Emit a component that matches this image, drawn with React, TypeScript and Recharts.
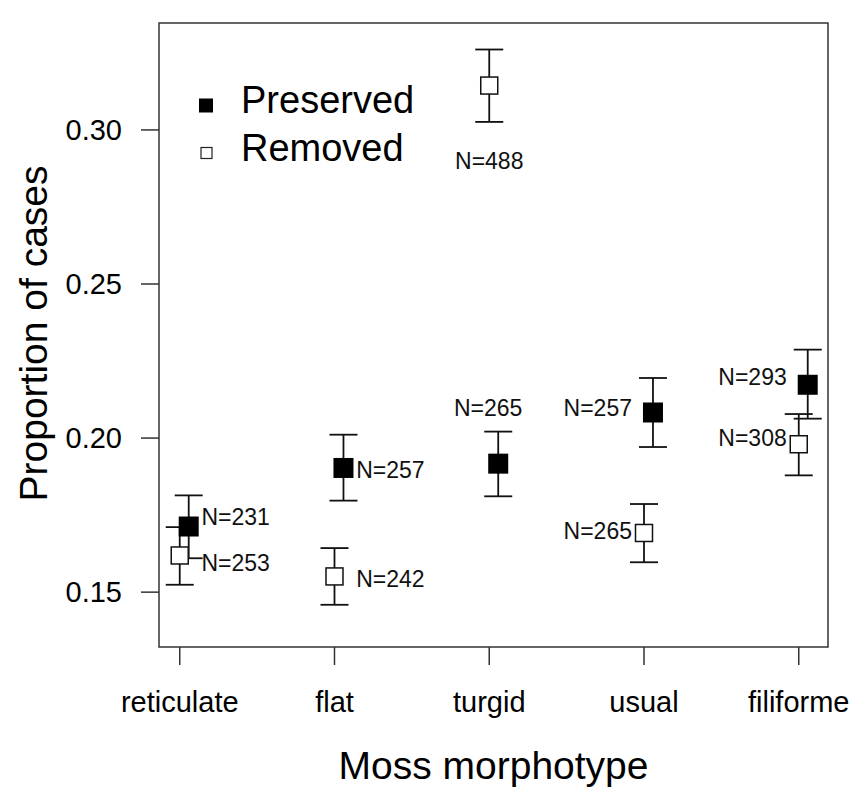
import {
  ScatterChart,
  Scatter,
  XAxis,
  YAxis,
  ErrorBar,
  ReferenceArea,
  Legend,
} from 'recharts';

// values
const categories = ['reticulate', 'flat', 'turgid', 'usual', 'filiforme'];

const preservedMean = [0.1713, 0.1903, 0.1917, 0.2083, 0.2173];
const preservedLower = [0.161, 0.1797, 0.1811, 0.1971, 0.2063];
const preservedUpper = [0.1814, 0.2011, 0.2021, 0.2195, 0.2287];
const preservedN = [231, 257, 265, 257, 293];

const removedMean = [0.1619, 0.1551, 0.3144, 0.1692, 0.198];
const removedLower = [0.1524, 0.1459, 0.3026, 0.1597, 0.1879];
const removedUpper = [0.1711, 0.1643, 0.3261, 0.1786, 0.2078];
const removedN = [253, 242, 488, 265, 308];

const yTicks = [0.15, 0.2, 0.25, 0.3];
const xTicks = [1, 2, 3, 4, 5];

const FONT = '"Liberation Sans", Arial, Helvetica, sans-serif';
const X_DOMAIN: [number, number] = [0.866, 5.189];
const Y_DOMAIN: [number, number] = [0.1322, 0.3347];
const DODGE = 0.058; // preserved points sit a little right of the tick

// where each N= label sits relative to its square (px)
const preservedLabelPos = [
  { dx: 12.7, dy: -10, anchor: 'start' },
  { dx: 12.7, dy: 1.7, anchor: 'start' },
  { dx: -10, dy: -56, anchor: 'middle' },
  { dx: -21, dy: -4.4, anchor: 'end' },
  { dx: -21, dy: -8.3, anchor: 'end' },
];
const removedLabelPos = [
  { dx: 21.7, dy: 7.6, anchor: 'start' },
  { dx: 21.7, dy: 2.3, anchor: 'start' },
  { dx: 0, dy: 75.7, anchor: 'middle' },
  { dx: -12, dy: -1.6, anchor: 'end' },
  { dx: -12, dy: -6.5, anchor: 'end' },
];

const buildRows = (mean: number[], lower: number[], upper: number[], n: number[], shift: number) =>
  mean.map((m, i) => ({
    x: i + 1 + shift,
    y: m,
    err: [m - lower[i], upper[i] - m],
    n: n[i],
    idx: i,
  }));

const preservedRows = buildRows(preservedMean, preservedLower, preservedUpper, preservedN, DODGE);
const removedRows = buildRows(removedMean, removedLower, removedUpper, removedN, 0);

const NLabel = ({ cx, cy, pos, n }: any) => (
  <text
    x={cx + pos.dx}
    y={cy + pos.dy}
    dy="0.35em"
    textAnchor={pos.anchor}
    fontSize={23}
    fontFamily={FONT}
    fill="#111"
  >
    {`N=${n}`}
  </text>
);

const FilledSquare = (props: any) => {
  const { cx, cy, payload } = props;
  return (
    <g>
      <rect x={cx - 10} y={cy - 10} width={20} height={20} fill="#000" />
      <NLabel cx={cx} cy={cy} pos={preservedLabelPos[payload.idx]} n={payload.n} />
    </g>
  );
};

const OpenSquare = (props: any) => {
  const { cx, cy, payload } = props;
  return (
    <g>
      <rect x={cx - 8.5} y={cy - 8.5} width={17} height={17} fill="#fff" stroke="#111" strokeWidth={1.5} />
      <NLabel cx={cx} cy={cy} pos={removedLabelPos[payload.idx]} n={payload.n} />
    </g>
  );
};

const Nothing = () => <g />;

const LegendBox = () => (
  <svg width={260} height={110} style={{ fontFamily: FONT }}>
    <rect x={9} y={28.5} width={14} height={14} fill="#000" />
    <text x={51} y={43.3} fontSize={38} fill="#000">
      Preserved
    </text>
    <rect x={11} y={77.5} width={11} height={11} fill="#fff" stroke="#222" strokeWidth={1.2} />
    <text x={51} y={90.7} fontSize={38} fill="#000">
      Removed
    </text>
  </svg>
);

const YTitle = (props: any) => {
  const vb = props.viewBox || { x: 0, y: 23, width: 159, height: 624 };
  const x = vb.x + 47;
  const y = vb.y + vb.height / 2 - 1.5;
  return (
    <text
      x={x}
      y={y}
      transform={`rotate(-90, ${x}, ${y})`}
      textAnchor="middle"
      fontSize={39}
      fontFamily={FONT}
      fill="#000"
    >
      Proportion of cases
    </text>
  );
};

const XTitle = (props: any) => {
  const vb = props.viewBox || { x: 159, y: 647, width: 669, height: 142 };
  return (
    <text
      x={vb.x + vb.width / 2}
      y={vb.y + 132}
      textAnchor="middle"
      fontSize={39}
      fontFamily={FONT}
      fill="#000"
    >
      Moss morphotype
    </text>
  );
};

export default function App() {
  const tickStyle = { fontSize: 29, fill: '#000', fontFamily: FONT };
  return (
    <div style={{ position: 'absolute', left: 0, top: 0, background: '#fff' }}>
      <ScatterChart
        width={852}
        height={789}
        margin={{ top: 23, right: 24, left: 0, bottom: 0 }}
        style={{ fontFamily: FONT }}
      >
        <XAxis
          type="number"
          dataKey="x"
          domain={X_DOMAIN}
          ticks={xTicks}
          interval={0}
          allowDataOverflow
          tickFormatter={(v: number) => categories[v - 1]}
          tick={tickStyle}
          tickSize={18}
          tickMargin={26}
          height={142}
          axisLine={false}
          tickLine={{ stroke: '#333', strokeWidth: 1.5 }}
          label={<XTitle />}
        />
        <YAxis
          type="number"
          dataKey="y"
          domain={Y_DOMAIN}
          ticks={yTicks}
          interval={0}
          allowDataOverflow
          tickFormatter={(v: number) => v.toFixed(2)}
          tick={tickStyle}
          tickSize={18}
          tickMargin={19}
          width={159}
          axisLine={false}
          tickLine={{ stroke: '#333', strokeWidth: 1.5 }}
          label={<YTitle />}
        />
        <ReferenceArea
          x1={X_DOMAIN[0]}
          x2={X_DOMAIN[1]}
          y1={Y_DOMAIN[0]}
          y2={Y_DOMAIN[1]}
          fill="none"
          stroke="#333"
          strokeWidth={1.5}
          ifOverflow="visible"
        />
        <Legend
          layout="vertical"
          align="center"
          verticalAlign="middle"
          wrapperStyle={{ left: 190, top: 70, width: 260, height: 110 }}
          content={() => <LegendBox />}
        />
        {/* whiskers first so both squares sit on top of them */}
        <Scatter data={preservedRows} shape={Nothing} legendType="none" isAnimationActive={false}>
          <ErrorBar dataKey="err" direction="y" width={14} stroke="#111" strokeWidth={1.8} isAnimationActive={false} />
        </Scatter>
        <Scatter data={removedRows} shape={Nothing} legendType="none" isAnimationActive={false}>
          <ErrorBar dataKey="err" direction="y" width={14} stroke="#111" strokeWidth={1.8} isAnimationActive={false} />
        </Scatter>
        <Scatter name="Preserved" data={preservedRows} shape={FilledSquare} isAnimationActive={false} />
        <Scatter name="Removed" data={removedRows} shape={OpenSquare} isAnimationActive={false} />
      </ScatterChart>
    </div>
  );
}
